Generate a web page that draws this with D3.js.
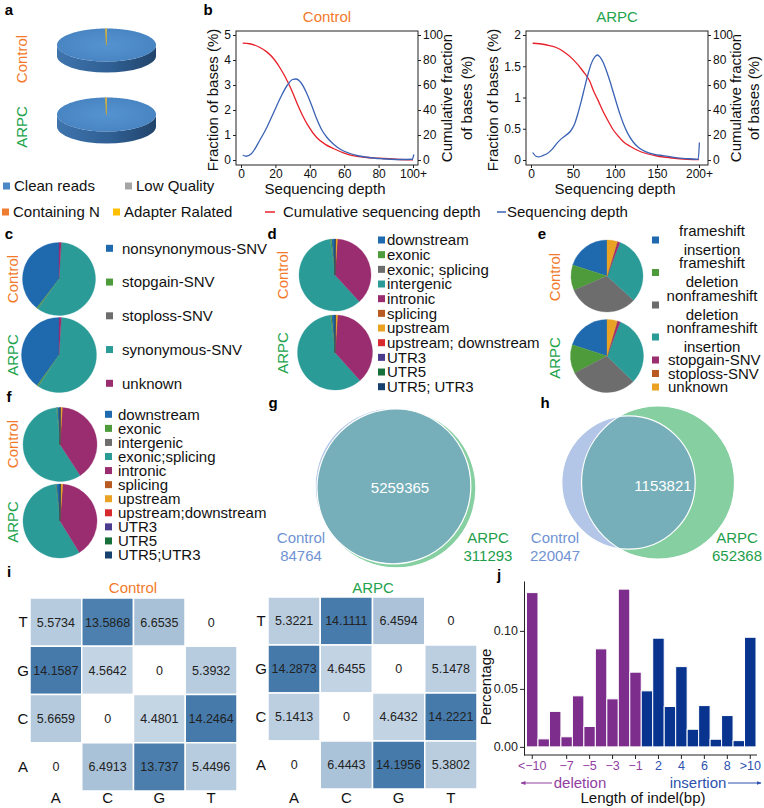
<!DOCTYPE html>
<html><head><meta charset="utf-8">
<script src="https://cdn.jsdelivr.net/npm/d3@7/dist/d3.min.js"></script>
<style>body{margin:0;background:#fff}svg{display:block}</style>
</head><body>
<svg id="fig" width="764" height="808"></svg>
<script>
// ---------------- DATA ----------------
const readCats = ["Clean reads","Low Quality","Containing N","Adapter Ralated"];
const readsControl = [99.7, 0.02, 0.01, 0.27];
const readsARPC = [99.7, 0.02, 0.01, 0.27];

// panel b : [depth, value]
const ctrlCum = [[1,93.5],[5,93],[11,90],[15,86.5],[19,81],[23,73],[27,63],[30,54],[33,44],[36,35],[39,27.5],[44,18],[49,12.5],[54,9],[60,5.5],[65,3.5],[72,2.2],[80,1.4],[90,0.6],[100,0.2]];
const ctrlFrac = [[1,0.2],[3,0.15],[6,0.25],[11,0.8],[15,1.3],[19,1.9],[23,2.5],[27,3.0],[30,3.22],[32,3.24],[35,3.08],[38,2.7],[41,2.2],[44,1.65],[47,1.2],[50,0.9],[54,0.62],[58,0.42],[63,0.27],[68,0.17],[74,0.1],[82,0.05],[92,0.02],[99.5,0.03],[100.5,0.22]];
const arpcCum = [[2,93.4],[10,93],[19,92],[30,90],[39,86.6],[50,80.5],[62,71],[70,63],[74,56],[80,47.5],[86,38.6],[92,31],[98,24],[104,19],[110,14.6],[118,11],[126,8],[138,5],[150,3.2],[165,1.8],[177,1],[200,0.3]];
const arpcFrac = [[2,0.12],[6,0.06],[9,0.05],[14,0.07],[19,0.1],[25,0.17],[31,0.27],[37,0.35],[42,0.4],[47,0.46],[52,0.58],[56,0.75],[60,0.95],[64,1.17],[68,1.38],[72,1.55],[76,1.65],[79,1.68],[82,1.65],[86,1.56],[90,1.42],[94,1.26],[98,1.08],[102,0.9],[106,0.73],[110,0.58],[115,0.43],[121,0.3],[128,0.2],[137,0.13],[147,0.09],[157,0.07],[167,0.05],[177,0.03],[188,0.02],[199,0.01],[200.5,0.28]];
const ctrlDepthTicks = [0,20,40,60,80,100];
const arpcDepthTicks = [0,50,100,150,200];
const ctrlFracTicks = [0,1,2,3,4,5];
const arpcFracTicks = [0,0.5,1,1.5,2];
const cumTicks = [0,20,40,60,80,100];

// panel c
const cCats = ["nonsynonymous-SNV","stopgain-SNV","stoploss-SNV","synonymous-SNV","unknown"];
const cControl = [39.6, 0.6, 0.1, 58.7, 1.0];
const cARPC = [40.1, 0.6, 0.1, 58.2, 1.0];
// panel d
const dCats = ["downstream","exonic","exonic; splicing","intergenic","intronic","splicing","upstream","upstream; downstream","UTR3","UTR5","UTR5; UTR3"];
const dControl = [1.6, 0.6, 0.02, 59.6, 37.1, 0.02, 0.8, 0.05, 0.15, 0.05, 0.01];
const dARPC = [1.5, 0.6, 0.02, 59.5, 37.3, 0.02, 0.8, 0.05, 0.15, 0.05, 0.01];
// panel e
const eCats = ["frameshift insertion","frameshift deletion","nonframeshift deletion","nonframeshift insertion","stopgain-SNV","stoploss-SNV","unknown"];
const eControl = [20.1, 11.4, 31.8, 30.8, 1.1, 0.3, 4.5];
const eARPC = [20.0, 12.7, 30.0, 31.3, 1.2, 0.3, 4.4];
// panel f
const fCats = ["downstream","exonic","intergenic","exonic;splicing","intronic","splicing","upstream","upstream;downstream","UTR3","UTR5","UTR5;UTR3"];
const fControl = [1.2, 0.3, 0.1, 57.6, 39.8, 0.05, 0.8, 0.05, 0.05, 0.02, 0.03];
const fARPC = [1.6, 0.3, 0.1, 56.8, 40.0, 0.05, 0.9, 0.05, 0.1, 0.05, 0.05];
// panels g, h (Venn)
const gVenn = {controlOnly: 84764, shared: 5259365, arpcOnly: 311293};
const hVenn = {controlOnly: 220047, shared: 1153821, arpcOnly: 652368};
// panel i
const bases = ["A","C","G","T"];
const rowBases = ["T","G","C","A"];
const mutControl = [[5.5734,13.5868,6.6535,0],[14.1587,4.5642,0,5.3932],[5.6659,0,4.4801,14.2464],[0,6.4913,13.737,5.4496]];
const mutARPC = [[5.3221,14.1111,6.4594,0],[14.2873,4.6455,0,5.1478],[5.1413,0,4.6432,14.2221],[0,6.4443,14.1956,5.3802]];
// panel j
const indelCats = ["<−10","−9","−8","−7","−6","−5","−4","−3","−2","−1","1","2","3","4","5","6","7","8","9",">10"];
const indelVals = [0.133,0.0069,0.0306,0.0087,0.044,0.0176,0.0845,0.0414,0.136,0.0644,0.0483,0.0937,0.0348,0.0692,0.0152,0.0356,0.0066,0.027,0.0054,0.0945];
const indelKind = ["deletion","deletion","deletion","deletion","deletion","deletion","deletion","deletion","deletion","deletion","insertion","insertion","insertion","insertion","insertion","insertion","insertion","insertion","insertion","insertion"];
const indelTicks = ["<−10","−7","−5","−3","−1","2","4","6","8",">10"];
const percentTicks = [0, 0.05, 0.10];

// ---------------- STYLE ----------------
const FF = '"Liberation Sans", Arial, Helvetica, sans-serif';
const ORANGE = "#F37A2B", GREEN = "#22A34C";
const readColors = ["#4A88C6","#A5A5A5","#ED7D31","#FFC000"];
const C = {blue:"#1F69AF", green:"#4E9B3B", gray:"#6D6D6D", teal:"#2B9B98", magenta:"#992D6F", brown:"#B85A21", yellow:"#E9A224", red:"#D62A2F", purple:"#4C3C8E", dkgreen:"#17703A", navy:"#17416F"};
const cColors = [C.blue, C.green, C.gray, C.teal, C.magenta];
const dColors = [C.blue, C.green, C.gray, C.teal, C.magenta, C.brown, C.yellow, C.red, C.purple, C.dkgreen, C.navy];
const eColors = [C.blue, C.green, C.gray, C.teal, C.magenta, C.brown, C.yellow];
const fColors = [C.blue, C.green, C.gray, C.teal, C.magenta, C.brown, C.yellow, C.red, C.purple, C.dkgreen, C.navy];

const svg = d3.select("#fig").attr("font-family", FF);
svg.append("rect").attr("width",764).attr("height",808).attr("fill","#fff");
const defs = svg.append("defs");

function text(x, y, s, o = {}) {
  return svg.append("text").attr("x", x).attr("y", y).attr("dy", "0.35em")
    .attr("font-size", o.size || 15).attr("fill", o.fill || "#111")
    .attr("text-anchor", o.anchor || "start").attr("font-weight", o.weight || null).text(s);
}
function rtext(x, y, s, fill, size) {
  svg.append("text").attr("transform", `translate(${x},${y}) rotate(-90)`)
    .attr("text-anchor", "middle").attr("dy", "0.35em")
    .attr("font-size", size || 15).attr("fill", fill || "#111").text(s);
}
function plabel(x, y, s) { text(x, y, s, {size: 15, weight: "bold", anchor: "middle", fill: "#000"}); }

// ---------------- PANEL A ----------------
const sg = defs.append("linearGradient").attr("id","side3d").attr("x1",0).attr("x2",1).attr("y1",0).attr("y2",0);
sg.append("stop").attr("offset",0).attr("stop-color","#3F74AD");
sg.append("stop").attr("offset",0.55).attr("stop-color","#2F5F93");
sg.append("stop").attr("offset",1).attr("stop-color","#22446A");
const tg = defs.append("radialGradient").attr("id","top3d").attr("cx",0.5).attr("cy",0.5).attr("r",0.6);
tg.append("stop").attr("offset",0).attr("stop-color","#5593D0");
tg.append("stop").attr("offset",1).attr("stop-color","#4682C0");

function pie3D(cx, cy, rx, ry, depth, values) {
  const g = svg.append("g");
  g.append("path").attr("d", `M${cx-rx},${cy}L${cx-rx},${cy+depth}A${rx},${ry} 0 0 0 ${cx+rx},${cy+depth}L${cx+rx},${cy}A${rx},${ry} 0 0 1 ${cx-rx},${cy}Z`)
    .attr("fill", "url(#side3d)");
  const arcs = d3.pie().sort(null)(values);
  arcs.forEach((a, i) => {
    const pts = [[cx, cy]];
    const n = Math.max(2, Math.ceil((a.endAngle - a.startAngle) / 0.02));
    for (let k = 0; k <= n; k++) {
      const t = a.startAngle + (a.endAngle - a.startAngle) * k / n;
      pts.push([cx + rx * Math.sin(t), cy - ry * Math.cos(t)]);
    }
    g.append("path").attr("d", d3.line()(pts) + "Z")
      .attr("fill", i === 0 ? "url(#top3d)" : readColors[i])
      .attr("stroke", i === 0 ? "none" : "#B8A548").attr("stroke-width", 0.4);
  });
}
plabel(9, 10, "a");
pie3D(106.5, 45, 49.5, 16.5, 11, readsControl);
pie3D(106.5, 114.5, 49.5, 17, 12, readsARPC);
rtext(22, 59, "Control", ORANGE);
rtext(22, 127, "ARPC", GREEN);

// legend row
const legItems = [
  {c:readColors[0], x:3, y:186, s:readCats[0]},
  {c:readColors[1], x:125, y:186, s:readCats[1]},
  {c:readColors[2], x:2, y:212, s:readCats[2]},
  {c:readColors[3], x:113, y:212, s:readCats[3]},
];
legItems.forEach(d => {
  svg.append("rect").attr("x", d.x).attr("y", d.y - 3.5).attr("width", 7).attr("height", 7).attr("fill", d.c);
  text(d.x + 11, d.y, d.s);
});
svg.append("line").attr("x1",265).attr("x2",275).attr("y1",212).attr("y2",212).attr("stroke","#E8202A").attr("stroke-width",1.5);
text(283, 212, "Cumulative sequencing depth");
svg.append("line").attr("x1",497).attr("x2",506).attr("y1",212).attr("y2",212).attr("stroke","#3A62B5").attr("stroke-width",1.5);
text(507, 212, "Sequencing depth");

// ---------------- PANEL B ----------------
function depthPanel(o) {
  const g = svg.append("g");
  const x = d3.scaleLinear().domain(o.xd).range(o.xr);
  const yL = d3.scaleLinear().domain(o.yd).range([160, 35]);
  const yR = d3.scaleLinear().domain([0, 100]).range([160, 35]);
  const styleAxis = sel => { sel.attr("font-family", FF).attr("font-size", 12); sel.select(".domain").remove(); sel.selectAll("text").attr("fill","#111"); sel.selectAll("line").attr("stroke","#222"); };
  g.append("g").attr("transform", `translate(${o.fx0},0)`)
    .call(d3.axisLeft(yL).tickValues(o.lt).tickFormat(d => String(d)).tickSize(3).tickPadding(2)).call(styleAxis);
  g.append("g").attr("transform", `translate(${o.fx1},0)`)
    .call(d3.axisRight(yR).tickValues(cumTicks).tickSize(3).tickPadding(2)).call(styleAxis);
  g.append("g").attr("transform", `translate(0,${o.fy1})`)
    .call(d3.axisBottom(x).tickValues(o.xt).tickFormat(d => d === o.xd[1] ? d + "+" : String(d)).tickSize(3).tickPadding(1)).call(styleAxis);
  g.append("rect").attr("x", o.fx0).attr("y", o.fy0).attr("width", o.fx1 - o.fx0).attr("height", o.fy1 - o.fy0)
    .attr("fill", "none").attr("stroke", "#222").attr("stroke-width", 1);
  g.append("path").datum(o.cum).attr("fill","none").attr("stroke","#E8202A").attr("stroke-width",1.3)
    .attr("d", d3.line().x(d => x(d[0])).y(d => yR(d[1])).curve(d3.curveMonotoneX));
  g.append("path").datum(o.frac).attr("fill","none").attr("stroke","#3A62B5").attr("stroke-width",1.3)
    .attr("d", d3.line().x(d => x(d[0])).y(d => yL(d[1])).curve(d3.curveMonotoneX));
  text((o.fx0 + o.fx1) / 2, 17, o.title, {anchor: "middle", fill: o.tcol});
  text((o.fx0 + o.fx1) / 2 - 2, 188.5, "Sequencing depth", {anchor: "middle"});
  rtext(o.lx, 100, "Fraction of bases (%)");
  rtext(o.rx1, 98, "Cumulative fraction");
  rtext(o.rx2, 98, "of bases (%)");
}
plabel(208, 10, "b");
depthPanel({fx0:236, fx1:418, fy0:31, fy1:165, xd:[0,100], xr:[241,413], yd:[0,5], lt:ctrlFracTicks, xt:ctrlDepthTicks,
  cum:ctrlCum, frac:ctrlFrac, title:"Control", tcol:ORANGE, lx:213, rx1:447, rx2:467});
depthPanel({fx0:526, fx1:708, fy0:31, fy1:165, xd:[0,200], xr:[531,699], yd:[0,2], lt:arpcFracTicks, xt:arpcDepthTicks,
  cum:arpcCum, frac:arpcFrac, title:"ARPC", tcol:GREEN, lx:493, rx1:736, rx2:754});

// ---------------- PIES c d e f ----------------
function pie2D(cx, cy, r, values, colors) {
  const arcs = d3.pie().sort(null).startAngle(0).endAngle(-2 * Math.PI)(values);
  const arc = d3.arc().innerRadius(0).outerRadius(r);
  svg.append("g").attr("transform", `translate(${cx},${cy})`).selectAll("path").data(arcs).join("path")
    .attr("d", arc).attr("fill", (d, i) => colors[i]).attr("stroke", (d, i) => colors[i]).attr("stroke-width", 0.3);
}
function legend(cats, colors, sx, tx, y0, dy) {
  cats.forEach((c, i) => {
    svg.append("rect").attr("x", sx).attr("y", y0 + i * dy - 3.5).attr("width", 7).attr("height", 7).attr("fill", colors[i]);
    text(tx, y0 + i * dy, c);
  });
}
// c
plabel(9, 234, "c");
pie2D(59, 279, 36.5, cControl, cColors);
pie2D(59, 355, 37.5, cARPC, cColors);
rtext(13, 279, "Control", ORANGE);
rtext(13, 355, "ARPC", GREEN);
legend(cCats, cColors, 106, 122, 248.3, 33.75);
// d
plabel(272, 234, "d");
pie2D(335, 275, 36, dControl, dColors);
pie2D(335, 352.5, 37.5, dARPC, dColors);
rtext(283, 275, "Control", ORANGE);
rtext(283, 353, "ARPC", GREEN);
legend(dCats, dColors, 378, 387, 240, 14.67);
// e
plabel(542, 234, "e");
pie2D(607, 276, 36, eControl, eColors);
pie2D(607, 356, 36.5, eARPC, eColors);
rtext(555, 277, "Control", ORANGE);
rtext(555, 358, "ARPC", GREEN);
{
  const ys = [240, 272.5, 305, 337, 360, 373.5, 387];
  eCats.forEach((c, i) => {
    svg.append("rect").attr("x", 652).attr("y", ys[i] - 3.5).attr("width", 7).attr("height", 7).attr("fill", eColors[i]);
    const words = c.split(" ");
    if (words.length === 2 && i < 4) {
      text(712, ys[i] - 9.5, words[0], {anchor: "middle"});
      text(712, ys[i] + 9.5, words[1], {anchor: "middle"});
    } else text(668, ys[i], c);
  });
}
// f
plabel(9, 397, "f");
pie2D(60, 444.5, 37, fControl, fColors);
pie2D(60, 521, 37, fARPC, fColors);
rtext(13, 444, "Control", ORANGE);
rtext(13, 522, "ARPC", GREEN);
legend(fCats, fColors, 105, 118, 414.3, 14.07);

// ---------------- VENN g h ----------------
function lensArea(r1, r2, d) {
  if (d >= r1 + r2) return 0;
  if (d <= Math.abs(r1 - r2)) return Math.PI * Math.min(r1, r2) ** 2;
  const a = r1 * r1 * Math.acos((d * d + r1 * r1 - r2 * r2) / (2 * d * r1));
  const b = r2 * r2 * Math.acos((d * d + r2 * r2 - r1 * r1) / (2 * d * r2));
  const c = 0.5 * Math.sqrt((-d + r1 + r2) * (d + r1 - r2) * (d - r1 + r2) * (d + r1 + r2));
  return a + b - c;
}
let vennId = 0;
function venn(v, cx, cy, rMax, ang, numPos, lab1, lab2) {
  const t1 = v.controlOnly + v.shared, t2 = v.arpcOnly + v.shared;
  const rs = d3.scaleSqrt().domain([0, Math.max(t1, t2)]).range([0, rMax]);
  const r1 = rs(t1), r2 = rs(t2), target = Math.PI * rs(v.shared) ** 2;
  let lo = Math.abs(r1 - r2), hi = r1 + r2;
  for (let k = 0; k < 60; k++) { const m = (lo + hi) / 2; if (lensArea(r1, r2, m) > target) lo = m; else hi = m; }
  const d = (lo + hi) / 2;
  const cx2 = cx + d * Math.cos(ang), cy2 = cy + d * Math.sin(ang);
  const id = "vclip" + (vennId++);
  defs.append("clipPath").attr("id", id).append("circle").attr("cx", cx).attr("cy", cy).attr("r", r1);
  svg.append("circle").attr("cx", cx).attr("cy", cy).attr("r", r1).attr("fill", "#B3C6E7");
  svg.append("circle").attr("cx", cx2).attr("cy", cy2).attr("r", r2).attr("fill", "#86CFA1");
  svg.append("circle").attr("cx", cx2).attr("cy", cy2).attr("r", r2).attr("fill", "#76AFB9").attr("clip-path", `url(#${id})`);
  svg.append("circle").attr("cx", cx).attr("cy", cy).attr("r", r1).attr("fill", "none").attr("stroke", "#fff").attr("stroke-width", 1.2);
  svg.append("circle").attr("cx", cx2).attr("cy", cy2).attr("r", r2).attr("fill", "none").attr("stroke", "#fff").attr("stroke-width", 1.2);
  text(numPos[0], numPos[1], String(v.shared), {anchor: "middle", fill: "#fff"});
  text(lab1[0], lab1[1], "Control", {anchor: "middle", fill: "#6F93D3"});
  text(lab1[0], lab1[1] + 18, String(v.controlOnly), {anchor: "middle", fill: "#6F93D3"});
  text(lab2[0], lab2[1], "ARPC", {anchor: "middle", fill: "#1E9E4A"});
  text(lab2[0], lab2[1] + 18, String(v.arpcOnly), {anchor: "middle", fill: "#1E9E4A"});
}
plabel(273, 403, "g");
venn(gVenn, 393, 486, 79.5, 0.6, [400, 488], [301, 538], [488, 538]);
plabel(545, 403, "h");
venn(hVenn, 628.5, 482.5, 76.5, 0, [663, 486], [555, 538], [737, 538]);

// ---------------- HEATMAPS i ----------------
const heatColor = d3.scaleLinear().domain([0, 14.3]).range(["#ffffff", "#4479AA"]);
function heat(m, xr, yr, title, tcol, tx, rlx) {
  const x = d3.scaleBand().domain(bases).range(xr);
  const y = d3.scaleBand().domain(rowBases).range(yr);
  const g = svg.append("g");
  rowBases.forEach((rb, i) => bases.forEach((cb, j) => {
    const v = m[i][j];
    g.append("rect").attr("x", x(cb)).attr("y", y(rb)).attr("width", x.bandwidth()).attr("height", y.bandwidth())
      .attr("fill", heatColor(v)).attr("stroke", "#fff").attr("stroke-width", 1.5);
    text(x(cb) + x.bandwidth() / 2, y(rb) + y.bandwidth() / 2, String(v), {anchor: "middle", size: 12.5, fill: "#222"});
  }));
  rowBases.forEach(rb => text(rlx, y(rb) + y.bandwidth() / 2, rb, {anchor: "middle", size: 15}));
  bases.forEach(cb => text(x(cb) + x.bandwidth() / 2, 798, cb, {anchor: "middle", size: 15}));
  text(tx, 588, title, {anchor: "middle", fill: tcol});
}
plabel(9, 572, "i");
heat(mutControl, [30, 237], [598, 791], "Control", ORANGE, 133, 23);
heat(mutARPC, [268, 477], [597, 789], "ARPC", GREEN, 373, 261);

// ---------------- BARS j ----------------
plabel(499, 575, "j");
{
  const PURP = "#7D2E8D", NAVYB = "#08338F", PURPL = "#9140A2", BLUEL = "#2D51AD";
  const x = d3.scaleBand().domain(indelCats).range([526.5, 756]).padding(0);
  const y = d3.scaleLinear().domain([-0.007, 0.143]).range([755, 581]);
  const g = svg.append("g");
  g.selectAll("rect").data(indelCats).join("rect")
    .attr("x", c => x(c)).attr("width", x.bandwidth())
    .attr("y", (c, i) => y(indelVals[i])).attr("height", (c, i) => y(0) - y(indelVals[i]))
    .attr("fill", (c, i) => indelKind[i] === "deletion" ? PURP : NAVYB).attr("stroke", "#fff").attr("stroke-width", 1);
  const ya = g.append("g").attr("transform", "translate(524,0)")
    .call(d3.axisLeft(y).tickValues(percentTicks).tickFormat(d3.format(".2f")).tickSize(4).tickSizeOuter(0).tickPadding(2));
  ya.attr("font-family", FF).attr("font-size", 12.5);
  ya.selectAll("text").attr("fill", "#222");
  ya.selectAll("line,path").attr("stroke", "#222");
  const xa = g.append("g").attr("transform", "translate(0,755)")
    .call(d3.axisBottom(x).tickValues(indelTicks).tickSize(4).tickSizeOuter(0).tickPadding(2));
  xa.attr("font-family", FF).attr("font-size", 12.5);
  xa.select(".domain").remove();
  xa.selectAll("line").attr("stroke", "#222");
  xa.selectAll("text").attr("fill", c => indelKind[indelCats.indexOf(c)] === "deletion" ? PURPL : BLUEL);
  g.append("line").attr("x1", 524).attr("x2", 757).attr("y1", 755).attr("y2", 755).attr("stroke", "#222");
  const mk = (id, col) => defs.append("marker").attr("id", id).attr("viewBox", "0 0 10 10").attr("refX", 9).attr("refY", 5)
    .attr("markerWidth", 5).attr("markerHeight", 5).attr("orient", "auto-start-reverse")
    .append("path").attr("d", "M0,1L10,5L0,9Z").attr("fill", col);
  mk("arrP", PURPL); mk("arrB", BLUEL);
  g.append("line").attr("x1", 552).attr("x2", 521).attr("y1", 783).attr("y2", 783).attr("stroke", PURPL).attr("stroke-width", 1).attr("marker-end", "url(#arrP)");
  text(580, 783, "deletion", {anchor: "middle", fill: PURPL});
  g.append("line").attr("x1", 728).attr("x2", 761).attr("y1", 783).attr("y2", 783).attr("stroke", BLUEL).attr("stroke-width", 1).attr("marker-end", "url(#arrB)");
  text(698, 783, "insertion", {anchor: "middle", fill: BLUEL});
  text(643, 798, "Length of indel(bp)", {anchor: "middle"});
  rtext(486, 687, "Percentage");
}
</script>
</body></html>
